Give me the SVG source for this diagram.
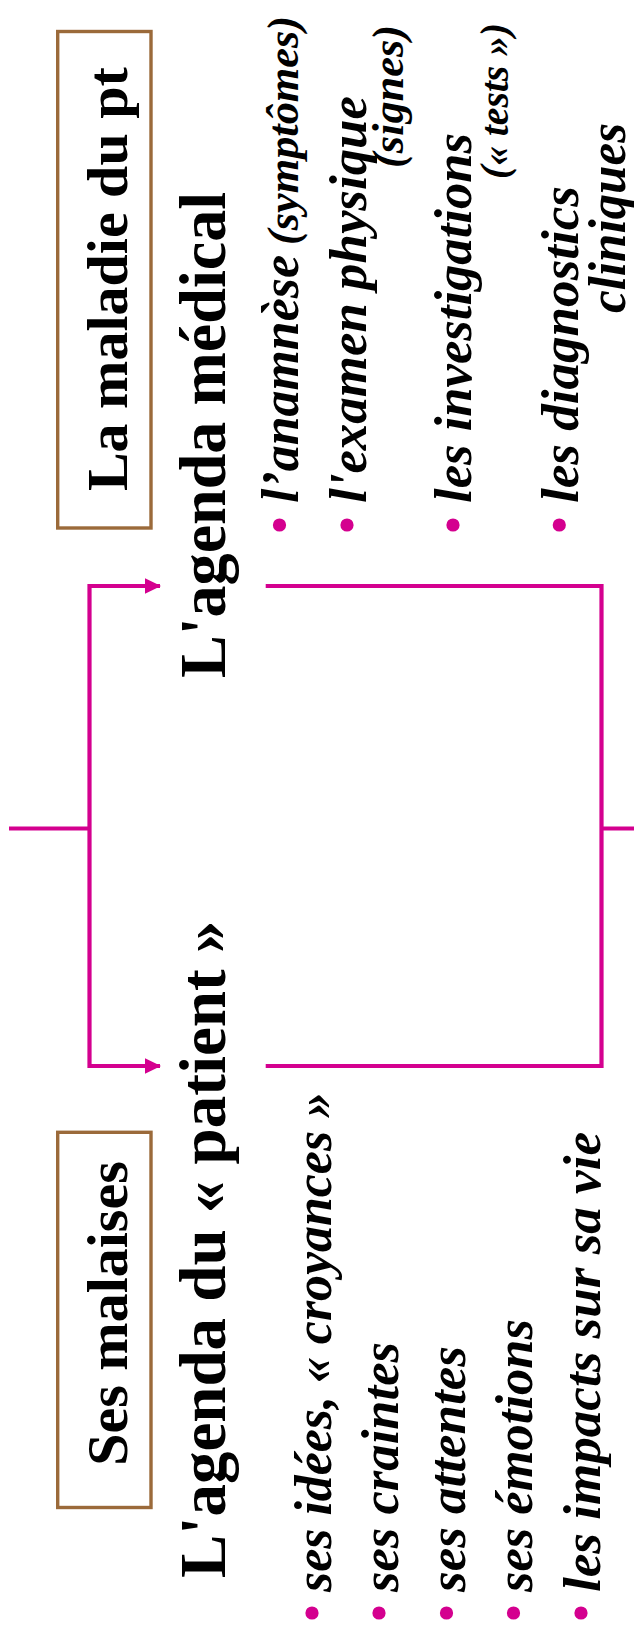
<svg xmlns="http://www.w3.org/2000/svg" width="634" height="1634" viewBox="0 0 634 1634">
  <style>
    .box { fill: #ffffff; stroke: #9b6a3a; stroke-width: 3.4; }
    .title { font-family: "Liberation Serif", "Times New Roman", serif; font-weight: bold; font-size: 58px; fill: #000; }
    .head { font-family: "Liberation Serif", "Times New Roman", serif; font-weight: bold; font-size: 65px; fill: #000; }
    .item { font-family: "Liberation Serif", "Times New Roman", serif; font-weight: bold; font-style: italic; font-size: 52px; fill: #000; }
    .sub { font-size: 44px; }
    .small { font-size: 40px; }
    .bullet { fill: #d4008f; }
    .conn { fill: none; stroke: #d4008f; stroke-width: 4.2; stroke-linejoin: miter; stroke-linecap: butt; }
  </style>
  <defs>
    <marker id="arrow" viewBox="0 0 16 16" refX="15" refY="8" markerWidth="16" markerHeight="16" markerUnits="userSpaceOnUse" orient="auto-start-reverse">
      <path d="M0,0.3 L16,8 L0,15.7 z" fill="#d4008f"/>
    </marker>
  </defs>
  <rect width="634" height="1634" fill="#ffffff"/>

  <g id="box-maladie">
    <rect class="box" x="57.7" y="31.5" width="93.3" height="496.5"/>
    <text class="title" transform="translate(126.5 279.2) rotate(-90)" text-anchor="middle">La maladie du pt</text>
  </g>

  <g id="box-malaises">
    <rect class="box" x="57.7" y="1132.3" width="93.3" height="375.2"/>
    <text class="title" transform="translate(126.5 1313.5) rotate(-90)" text-anchor="middle">Ses malaises</text>
  </g>

  <g id="agenda-medical">
    <text class="head" transform="translate(225 678) rotate(-90)" textLength="486" lengthAdjust="spacingAndGlyphs">L'agenda médical</text>
    <circle class="bullet" cx="279.5" cy="525" r="6.6"/>
    <text class="item" transform="translate(298 503) rotate(-90)" textLength="248" lengthAdjust="spacingAndGlyphs">l’anamnèse</text>
    <text class="item sub" transform="translate(298 245) rotate(-90)" textLength="229" lengthAdjust="spacingAndGlyphs">(symptômes)</text>
    <circle class="bullet" cx="347" cy="525" r="6.6"/>
    <text class="item" transform="translate(366 503) rotate(-90)" textLength="407" lengthAdjust="spacingAndGlyphs">l'examen physique</text>
    <text class="item sub" transform="translate(403 168) rotate(-90)" textLength="143" lengthAdjust="spacingAndGlyphs">(signes)</text>
    <circle class="bullet" cx="453" cy="525" r="6.6"/>
    <text class="item" transform="translate(471 503) rotate(-90)" textLength="370" lengthAdjust="spacingAndGlyphs">les investigations</text>
    <text class="item small" transform="translate(508 179) rotate(-90)" textLength="156" lengthAdjust="spacingAndGlyphs">(« tests »)</text>
    <circle class="bullet" cx="559.3" cy="525" r="6.6"/>
    <text class="item" transform="translate(578 503) rotate(-90)" textLength="317" lengthAdjust="spacingAndGlyphs">les diagnostics</text>
    <text class="item" transform="translate(625 313) rotate(-90)" textLength="190" lengthAdjust="spacingAndGlyphs">cliniques</text>
  </g>

  <g id="agenda-patient">
    <text class="head" transform="translate(225 1578) rotate(-90)">L'agenda du « patient »</text>
    <circle class="bullet" cx="312" cy="1613" r="6.6"/>
    <text class="item" transform="translate(331 1592) rotate(-90)" textLength="500" lengthAdjust="spacingAndGlyphs">ses idées, « croyances »</text>
    <circle class="bullet" cx="379" cy="1613" r="6.6"/>
    <text class="item" transform="translate(398 1592) rotate(-90)" textLength="250" lengthAdjust="spacingAndGlyphs">ses craintes</text>
    <circle class="bullet" cx="446.5" cy="1613" r="6.6"/>
    <text class="item" transform="translate(465 1592) rotate(-90)" textLength="246" lengthAdjust="spacingAndGlyphs">ses attentes</text>
    <circle class="bullet" cx="513.5" cy="1613" r="6.6"/>
    <text class="item" transform="translate(532 1592) rotate(-90)" textLength="273" lengthAdjust="spacingAndGlyphs">ses émotions</text>
    <circle class="bullet" cx="581" cy="1613" r="6.6"/>
    <text class="item" transform="translate(600 1592) rotate(-90)" textLength="460" lengthAdjust="spacingAndGlyphs">les impacts sur sa vie</text>
  </g>

  <g id="connectors">
    <path class="conn" d="M9,828.5 H89.5"/>
    <path class="conn" d="M160,586 H89.5 V1066 H160" marker-start="url(#arrow)" marker-end="url(#arrow)"/>
    <path class="conn" d="M265.7,586 H601.5 V1066 H265.7"/>
    <path class="conn" d="M601.5,828.5 H634"/>
  </g>
</svg>
